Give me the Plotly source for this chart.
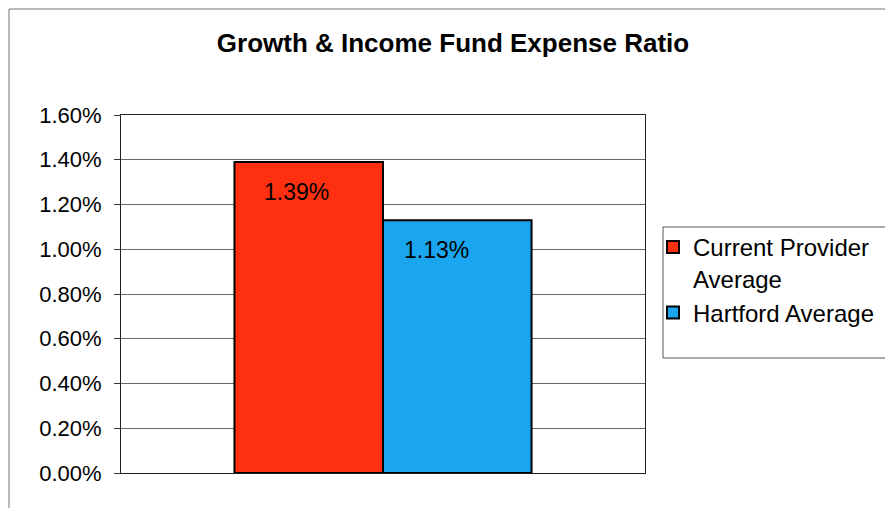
import plotly.graph_objects as go

categories = ["Growth & Income"]
series_names = ["Current Provider<br>Average", "Hartford Average"]
series_values = [[1.39], [1.13]]
series_colors = ["#FF3010", "#1AA6EE"]
label_texts = ["1.39%", "1.13%"]
tick_vals = [0, 0.2, 0.4, 0.6, 0.8, 1.0, 1.2, 1.4, 1.6]
tick_text = ["0.00%", "0.20%", "0.40%", "0.60%", "0.80%", "1.00%", "1.20%", "1.40%", "1.60%"]

W, H = 885, 508
L, R, T, B = 121, 240, 115, 35
FONT = "Liberation Sans, Arial, sans-serif"

fig = go.Figure()
for name, vals, col in zip(series_names, series_values, series_colors):
    fig.add_trace(go.Bar(
        x=categories, y=vals, name=name,
        marker=dict(color=col, line=dict(color="#000000", width=2)),
    ))

# value labels near top inside bars
offsets = [-0.1415, 0.1415]
label_xshift = [-12, -21]
for off, xs, vals, txt in zip(offsets, label_xshift, series_values, label_texts):
    fig.add_annotation(
        x=off, y=vals[0], xref="x", yref="y", text=txt, showarrow=False,
        yshift=-30, xshift=xs,
        font=dict(family=FONT, size=23, color="#000"),
    )

pw = W - L - R
ph = H - T - B
def px(xp):
    return (xp - L) / pw
def py(yp):
    return (H - B - yp) / ph

# outer chart frame (top and left)
fig.add_shape(type="line", xref="paper", yref="paper", x0=px(9), x1=px(885), y0=py(9), y1=py(9),
              line=dict(color="#777", width=1))
fig.add_shape(type="line", xref="paper", yref="paper", x0=px(9), x1=px(9), y0=py(9), y1=py(508),
              line=dict(color="#777", width=1))
# legend frame
fig.add_shape(type="rect", xref="paper", yref="paper", x0=px(663), x1=px(890), y0=py(227), y1=py(358),
              line=dict(color="#555", width=1), fillcolor="rgba(0,0,0,0)")

fig.update_layout(
    width=W, height=H,
    margin=dict(l=L, r=R, t=T, b=B, autoexpand=False),
    paper_bgcolor="white", plot_bgcolor="white",
    title=dict(text="<b>Growth & Income Fund Expense Ratio</b>", x=453 / W, xanchor="center",
               y=1 - 43 / H, yanchor="middle",
               font=dict(family=FONT, size=26, color="#000")),
    barmode="group", bargap=0.433, bargroupgap=0,
    showlegend=True,
    legend=dict(x=px(653), y=py(225), xanchor="left", yanchor="top",
                borderwidth=0, bgcolor="rgba(0,0,0,0)", valign="top",
                font=dict(family=FONT, size=24, color="#000"),
                tracegroupgap=6, itemwidth=30),
    xaxis=dict(showticklabels=False, showline=True, linecolor="#222", linewidth=1, mirror=True,
               ticks="", showgrid=False, range=[-0.5, 0.5]),
    yaxis=dict(range=[0, 1.6], tickvals=tick_vals, ticktext=tick_text,
               showline=True, linecolor="#222", linewidth=1, mirror=True,
               ticks="outside", ticklen=6, tickcolor="#333", ticklabelstandoff=8,
               showgrid=True, gridcolor="#666", gridwidth=1,
               tickfont=dict(family=FONT, size=22, color="#000")),
)

fig.write_html("out.html")
